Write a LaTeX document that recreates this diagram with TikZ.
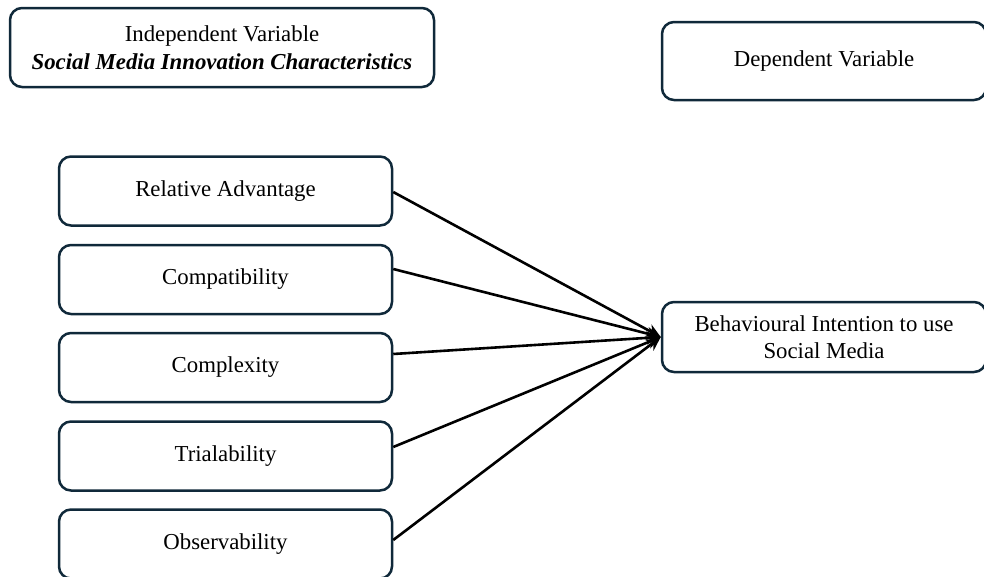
\documentclass[tikz,border=0pt]{standalone}
\usepackage{fontspec}
\setmainfont{Liberation Serif}
\usetikzlibrary{arrows.meta}
\definecolor{boxline}{HTML}{10293A}
\tikzset{
  vbox/.style={draw=boxline, line width=2.5pt, rounded corners=12pt, fill=white,
    align=center, inner sep=0pt, font=\fontsize{22.8}{27.5}\selectfont},
  link/.style={draw=black, line width=2.6pt, -{Stealth[length=14pt,width=13pt]}}
}
\begin{document}
\begin{tikzpicture}[x=1pt,y=-1pt]
\useasboundingbox (0,0) rectangle (984,576);
\clip (0,0) rectangle (984,576);
\node[vbox, minimum width=424pt, minimum height=79pt] (ind) at (222,47.5)
  {Independent Variable\\\textbf{\textit{Social Media Innovation Characteristics}}};
\node[vbox, minimum width=324pt, minimum height=78pt] (dep) at (824,61) {Dependent Variable};
\node[vbox, minimum width=333pt, minimum height=69pt] (rel) at (225.5,191) {Relative Advantage};
\node[vbox, minimum width=333pt, minimum height=69pt] (comp) at (225.5,279.5) {Compatibility};
\node[vbox, minimum width=333pt, minimum height=69pt] (cplx) at (225.5,367.5) {Complexity};
\node[vbox, minimum width=333pt, minimum height=69pt] (tri) at (225.5,456) {Trialability};
\node[vbox, minimum width=333pt, minimum height=69pt] (obs) at (225.5,544) {Observability};
\node[vbox, minimum width=324pt, minimum height=70pt] (beh) at (824,337)
  {Behavioural Intention to use\\Social Media};
\draw[link] ([yshift=-1pt]rel.east) -- (beh.west);
\draw[link] ([yshift=10.5pt]comp.east) -- (beh.west);
\draw[link] ([yshift=13.5pt]cplx.east) -- (beh.west);
\draw[link] ([yshift=9pt]tri.east) -- (beh.west);
\draw[link] ([yshift=4pt]obs.east) -- (beh.west);
\end{tikzpicture}
\end{document}
